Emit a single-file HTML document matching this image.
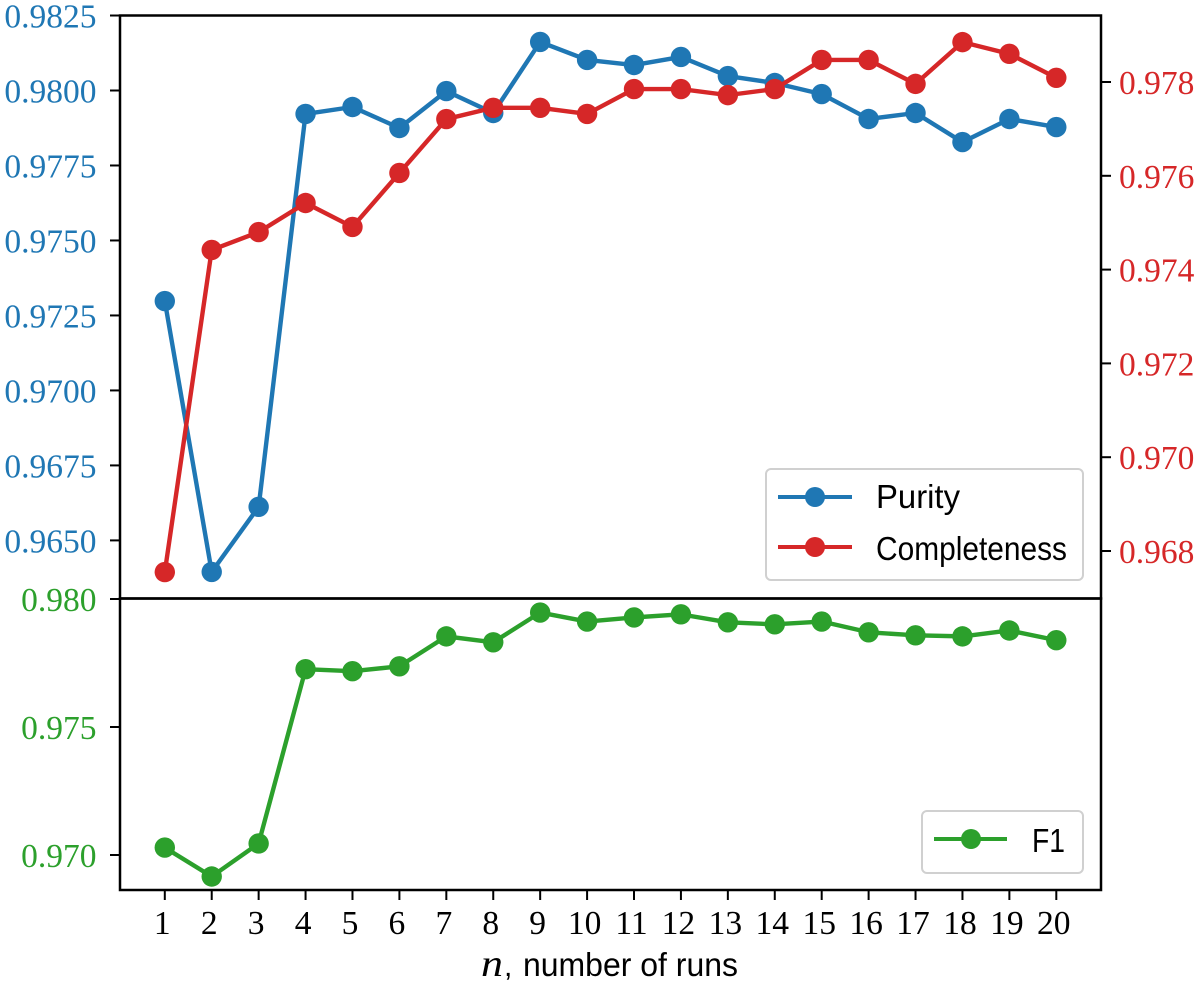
<!DOCTYPE html>
<html lang="en">
<head>
<meta charset="utf-8">
<title>Purity, Completeness and F1 versus number of runs</title>
<style>
html,body{margin:0;padding:0;background:#fff;}
svg{display:block;}
.tick-label{font-family:"Liberation Serif",serif;font-size:33.5px;}
.legend-text{font-family:"Liberation Sans",sans-serif;font-size:33px;fill:#000;}
</style>
</head>
<body>
<svg id="chart" xmlns="http://www.w3.org/2000/svg" width="1200" height="985" viewBox="0 0 1200 985">
  <rect x="0" y="0" width="1200" height="985" fill="#fff"/>
  <g id="marks"></g>
  <g id="axes"></g>

  <g>
    <rect x="766" y="469" width="317" height="111" rx="5" fill="#fff" fill-opacity="0.85" stroke="#d0d0d0" stroke-width="2"/>
    <line x1="778" y1="497" x2="852" y2="497" stroke="#1f77b4" stroke-width="4"/>
    <circle cx="815" cy="497" r="10" fill="#1f77b4"/>
    <text class="legend-text" x="876" y="508" textLength="84" lengthAdjust="spacingAndGlyphs">Purity</text>
    <line x1="778" y1="547" x2="852" y2="547" stroke="#d62728" stroke-width="4"/>
    <circle cx="815" cy="547" r="10" fill="#d62728"/>
    <text class="legend-text" x="876" y="560" textLength="191" lengthAdjust="spacingAndGlyphs">Completeness</text>
  </g>

  <g>
    <rect x="922" y="811" width="161" height="62" rx="5" fill="#fff" fill-opacity="0.85" stroke="#d0d0d0" stroke-width="2"/>
    <line x1="934" y1="839" x2="1007" y2="839" stroke="#2ca02c" stroke-width="4"/>
    <circle cx="971" cy="839" r="10" fill="#2ca02c"/>
    <text class="legend-text" x="1032" y="852" textLength="33" lengthAdjust="spacingAndGlyphs">F1</text>
  </g>

  <g>
    <text x="481" y="976" font-family="'Liberation Serif',serif" font-style="italic" font-size="38" fill="#000" textLength="22" lengthAdjust="spacingAndGlyphs">n</text>
    <text x="504" y="976" font-family="'Liberation Sans',sans-serif" font-size="30" fill="#000">,</text>
    <text x="523" y="976" font-family="'Liberation Sans',sans-serif" font-size="33" fill="#000" textLength="215" lengthAdjust="spacingAndGlyphs">number of runs</text>
  </g>
</svg>

<script>
const runs = [1,2,3,4,5,6,7,8,9,10,11,12,13,14,15,16,17,18,19,20];
const purity = [0.97298,0.96395,0.96612,0.97922,0.97945,0.97875,0.97998,0.97925,0.98162,0.98102,0.98085,0.98112,0.98048,0.98025,0.97988,0.97905,0.97925,0.97828,0.97905,0.97878];
const completeness = [0.96755,0.97442,0.9748,0.97542,0.97491,0.97606,0.97721,0.97745,0.97745,0.97732,0.97785,0.97785,0.97772,0.97785,0.97847,0.97847,0.97796,0.97885,0.9786,0.97809];
const f1 = [0.97029,0.96916,0.97045,0.97726,0.97718,0.97737,0.97854,0.97831,0.97947,0.97912,0.97928,0.9794,0.97909,0.97901,0.97912,0.9787,0.97858,0.97854,0.97877,0.97839];
const purityTicks = ["0.9650","0.9675","0.9700","0.9725","0.9750","0.9775","0.9800","0.9825"];
const completenessTicks = ["0.968","0.970","0.972","0.974","0.976","0.978"];
const f1Ticks = ["0.970","0.975","0.980"];

const BLUE = '#1f77b4';
const RED = '#d62728';
const GREEN = '#2ca02c';
const SVG_NS = 'http://www.w3.org/2000/svg';
const marks = document.getElementById('marks');
const axes = document.getElementById('axes');

function scale(d0, d1, p0, p1) {
  return function (v) { return p0 + (v - d0) * (p1 - p0) / (d1 - d0); };
}
const xAxis = scale(1, 20, 164.8, 1056.3);
const yPurity = scale(0.965, 0.98, 540.4, 90.5);
const yCompleteness = scale(0.968, 0.978, 551, 82);
const yF1 = scale(0.97, 0.98, 855, 599);

function make(tag, parent, attrs, text) {
  const el = document.createElementNS(SVG_NS, tag);
  for (const k in attrs) el.setAttribute(k, attrs[k]);
  if (text !== undefined) el.textContent = text;
  parent.appendChild(el);
  return el;
}

function drawSeries(values, yFn, color, key) {
  const pts = values.map(function (v, i) { return xAxis(runs[i]).toFixed(2) + ',' + yFn(v).toFixed(2); }).join(' ');
  const line = make('polyline', marks, {points: pts, fill: 'none', stroke: color, 'stroke-width': 4.4, 'stroke-linejoin': 'round'});
  
  
  values.forEach(function (v, i) {
    const dot = make('circle', marks, {cx: xAxis(runs[i]), cy: yFn(v), r: 10.2, fill: color});
    
    
  });
}
drawSeries(purity, yPurity, BLUE, 'purity');
drawSeries(completeness, yCompleteness, RED, 'completeness');
drawSeries(f1, yF1, GREEN, 'f1');

function drawYTicks(labels, yFn, side, color, key) {
  labels.forEach(function (label) {
    const y = yFn(parseFloat(label));
    const x1 = side === 'left' ? 110 : 1101;
    const x2 = side === 'left' ? 120 : 1111;
    const tick = make('line', axes, {x1: x1, y1: y, x2: x2, y2: y, stroke: '#000', 'stroke-width': 2});
    
    
    const text = make('text', axes, {
      x: side === 'left' ? 96.5 : 1119,
      y: y + 12,
      fill: color,
      'text-anchor': side === 'left' ? 'end' : 'start',
      'class': 'tick-label'
    }, label);
    
    
  });
}
drawYTicks(purityTicks, yPurity, 'left', BLUE, 'purity-axis');
drawYTicks(completenessTicks, yCompleteness, 'right', RED, 'completeness-axis');
drawYTicks(f1Ticks, yF1, 'left', GREEN, 'f1-axis');

runs.forEach(function (n) {
  const x = xAxis(n);
  const tick = make('line', axes, {x1: x, y1: 890, x2: x, y2: 900, stroke: '#000', 'stroke-width': 2});
  
  
  const text = make('text', axes, {x: x - 2.5, y: 934, fill: '#000', 'text-anchor': 'middle', 'class': 'tick-label'}, String(n));
  
  
});

const topFrame = make('rect', axes, {x: 120, y: 15.5, width: 981, height: 583, fill: 'none', stroke: '#000', 'stroke-width': 2.5});


const bottomFrame = make('rect', axes, {x: 120, y: 598.5, width: 981, height: 291.5, fill: 'none', stroke: '#000', 'stroke-width': 2.5});


</script>
</body>
</html>
